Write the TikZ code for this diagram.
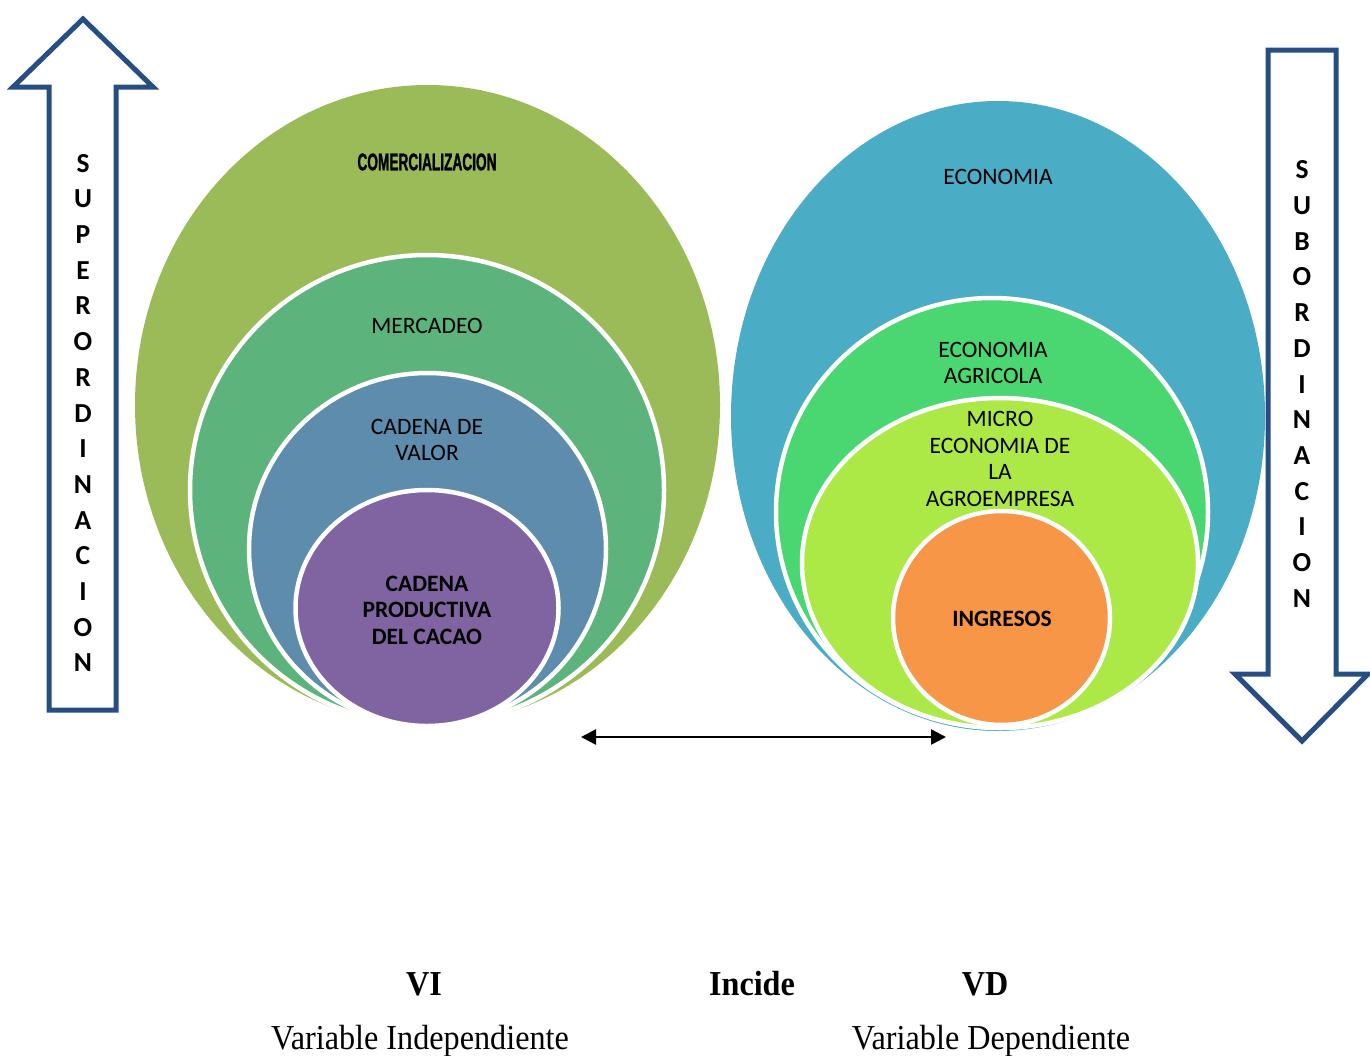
\documentclass[tikz,border=0pt]{standalone}
\usepackage{fontspec}
\setmainfont{Carlito}
\newfontfamily\titlefont[FakeStretch=0.57,FakeBold=1.2]{Liberation Sans}
\newfontfamily\captionfont[FakeStretch=0.92]{Liberation Serif}
\usetikzlibrary{shapes.geometric,arrows.meta}

\definecolor{cComerc}{HTML}{9BBB59}
\definecolor{cMerc}{HTML}{5CB47C}
\definecolor{cValor}{HTML}{5E8CAD}
\definecolor{cCacao}{HTML}{8064A2}
\definecolor{cEcon}{HTML}{4BACC6}
\definecolor{cAgri}{HTML}{4AD670}
\definecolor{cMicro}{HTML}{ADE946}
\definecolor{cIngr}{HTML}{F79646}
\definecolor{cNavy}{RGB}{38,78,130}

\begin{document}
\begin{tikzpicture}[x=1pt,y=-1pt,
  disc/.style={ellipse, inner sep=0pt, outer sep=0pt, draw=none},
  ring/.style={disc, draw=white, line width=4.5pt},
  lbl/.style={inner sep=0pt, align=center, text=black, font=\fontsize{23.5}{26.5}\selectfont},
  blbl/.style={lbl, font=\fontsize{23.5}{26.5}\selectfont\bfseries},
  letters/.style={inner sep=0pt, align=center, text=black, font=\fontsize{27.5}{35.7}\selectfont\bfseries},
  bigarrow/.style={draw=cNavy, line width=5pt, line join=miter, fill=white},
  caption/.style={inner sep=0pt, anchor=base, font=\captionfont\fontsize{35}{40}\selectfont},
  bcaption/.style={caption, font=\captionfont\fontsize{35}{40}\selectfont\bfseries}]
\useasboundingbox (0,0) rectangle (1370,1055);
\fill[white] (0,0) rectangle (1370,1055);

% ---- left stack: independent variable ----
\node[disc, fill=cComerc, minimum width=585pt, minimum height=640pt] (comerc) at (427.5,405) {};
\node[ring, fill=cMerc,  minimum width=474pt, minimum height=470pt] (merc)  at (427,490) {};
\node[ring, fill=cValor, minimum width=357pt, minimum height=352pt] (valor) at (427.5,549) {};
\node[ring, fill=cCacao, minimum width=263pt, minimum height=236pt] (cacao) at (427,608) {};

\node[inner sep=0pt, text=black, font=\titlefont\bfseries\fontsize{24}{26}\selectfont] (tComerc) at (427,162) {COMERCIALIZACION};
\node[lbl] (tMerc) at (427,326) {MERCADEO};
\node[lbl] (tValor) at (427,440) {CADENA DE\\VALOR};
\node[blbl] (tCacao) at (427,610) {CADENA\\PRODUCTIVA\\DEL CACAO};

% ---- right stack: dependent variable ----
\node[disc, fill=cEcon,  minimum width=534pt, minimum height=630pt] (econ)  at (998,416) {};
\node[ring, fill=cAgri,  minimum width=432pt, minimum height=428pt] (agri)  at (992,512) {};
\node[ring, fill=cMicro, minimum width=396pt, minimum height=330pt] (micro) at (1000,563) {};
\node[ring, fill=cIngr,  minimum width=217pt, minimum height=214pt] (ingr)  at (1001.5,618) {};

\node[lbl] (tEcon) at (998,177) {ECONOMIA};
\node[lbl] (tAgri) at (993,363) {ECONOMIA\\AGRICOLA};
\node[lbl] (tMicro) at (1000,459) {MICRO\\ECONOMIA DE\\LA\\AGROEMPRESA};
\node[blbl] (tIngr) at (1002,619) {INGRESOS};

% ---- side arrows ----
\draw[bigarrow] (83,19) -- (153,87) -- (116,87) -- (116,710) -- (49,710)
  -- (49,87) -- (13,87) -- cycle;
\node[letters] (sup) at (83,413) {S\\U\\P\\E\\R\\O\\R\\D\\I\\N\\A\\C\\I\\O\\N};

\draw[bigarrow] (1268,50) -- (1336,50) -- (1336,674) -- (1368,674) -- (1302,741)
  -- (1235,674) -- (1268,674) -- cycle;
\node[letters] (sub) at (1302,384) {S\\U\\B\\O\\R\\D\\I\\N\\A\\C\\I\\O\\N};

% ---- relation between the variables ----
\coordinate (incL) at (581,737);
\coordinate (incR) at (946,737);
\draw[line width=2.5pt, {Triangle[length=15pt,width=15pt]}-{Triangle[length=15pt,width=15pt]}] (incL) -- (incR);

% ---- captions ----
\node[bcaption] (vi) at (424,995) {VI};
\node[bcaption] (incide) at (752,995) {Incide};
\node[bcaption] (vd) at (985,995) {VD};
\node[caption] (vindep) at (420,1049) {Variable Independiente};
\node[caption] (vdep) at (991,1049) {Variable Dependiente};
\end{tikzpicture}
\end{document}
